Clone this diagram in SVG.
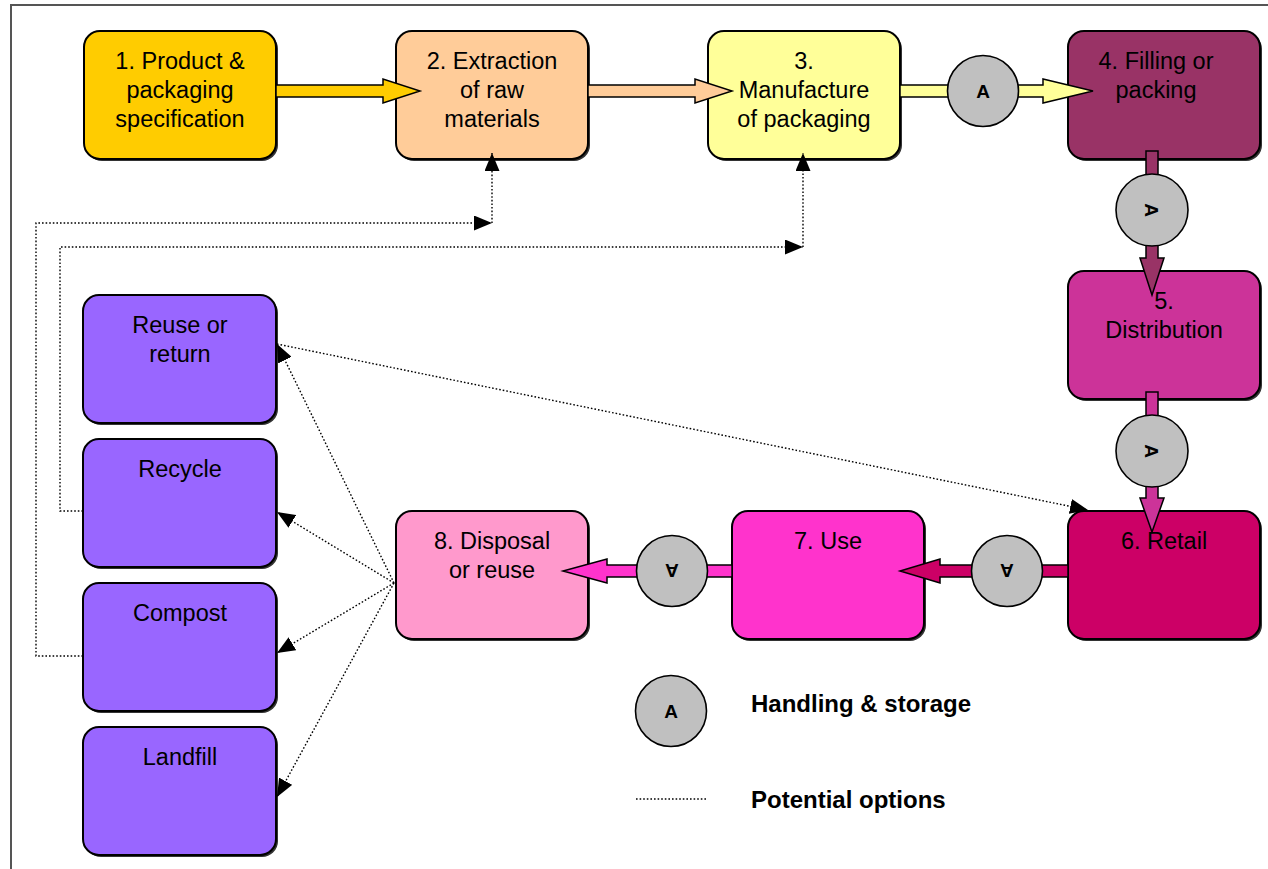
<svg xmlns="http://www.w3.org/2000/svg" width="1268" height="869" viewBox="0 0 1268 869">
<style>
text{font-family:"Liberation Sans",Arial,sans-serif;fill:#000}
.lbl{font-size:23.5px;text-anchor:middle}
.box{stroke:#000;stroke-width:2}
.sh{fill:#333}
.blk{stroke:#000;stroke-width:1.5}
.circ{fill:#C0C0C0;stroke:#000;stroke-width:1.6}
.ca{font-size:19px;font-weight:bold;text-anchor:middle}
.dot{fill:none;stroke:#000;stroke-width:1.4;stroke-dasharray:1.6 2}
.leg{font-size:24px;font-weight:bold}
</style>
<defs>
<marker id="ah" viewBox="0 0 18 15" refX="18" refY="7.5" markerWidth="18" markerHeight="15" markerUnits="userSpaceOnUse" orient="auto"><path d="M0,0 L18,7.5 L0,15 z" fill="#000"/></marker>
</defs>
<rect width="1268" height="869" fill="#fff"/>
<path d="M11,869 V5 H1268" fill="none" stroke="#555" stroke-width="2"/>

<g id="n1"><rect class="sh" x="86" y="33" width="192" height="128" rx="16"/><rect class="box" x="84" y="31" width="192" height="128" rx="16" fill="#FFCC00"/><text class="lbl" x="180" y="69">1. Product &amp;</text><text class="lbl" x="180" y="98">packaging</text><text class="lbl" x="180" y="127">specification</text></g>
<g id="n2"><rect class="sh" x="398" y="33" width="192" height="128" rx="16"/><rect class="box" x="396" y="31" width="192" height="128" rx="16" fill="#FFCC99"/><text class="lbl" x="492" y="69">2. Extraction</text><text class="lbl" x="492" y="98">of raw</text><text class="lbl" x="492" y="127">materials</text></g>
<g id="n3"><rect class="sh" x="710" y="33" width="192" height="128" rx="16"/><rect class="box" x="708" y="31" width="192" height="128" rx="16" fill="#FFFF99"/><text class="lbl" x="804" y="69">3.</text><text class="lbl" x="804" y="98">Manufacture</text><text class="lbl" x="804" y="127">of packaging</text></g>
<g id="n4"><rect class="sh" x="1070" y="33" width="192" height="128" rx="16"/><rect class="box" x="1068" y="31" width="192" height="128" rx="16" fill="#993366"/><text class="lbl" x="1156" y="69">4. Filling or</text><text class="lbl" x="1156" y="98">packing</text></g>
<g id="n5"><rect class="sh" x="1070" y="273" width="192" height="128" rx="16"/><rect class="box" x="1068" y="271" width="192" height="128" rx="16" fill="#CC3399"/><text class="lbl" x="1164" y="309">5.</text><text class="lbl" x="1164" y="338">Distribution</text></g>
<g id="n6"><rect class="sh" x="1070" y="513" width="192" height="128" rx="16"/><rect class="box" x="1068" y="511" width="192" height="128" rx="16" fill="#CC0066"/><text class="lbl" x="1164" y="549">6. Retail</text></g>
<g id="n7"><rect class="sh" x="734" y="513" width="192" height="128" rx="16"/><rect class="box" x="732" y="511" width="192" height="128" rx="16" fill="#FF33CC"/><text class="lbl" x="828" y="549">7. Use</text></g>
<g id="n8"><rect class="sh" x="398" y="513" width="192" height="128" rx="16"/><rect class="box" x="396" y="511" width="192" height="128" rx="16" fill="#FF99CC"/><text class="lbl" x="492" y="549">8. Disposal</text><text class="lbl" x="492" y="578">or reuse</text></g>
<g id="reuse"><rect class="sh" x="85" y="297" width="193" height="128" rx="16"/><rect class="box" x="83" y="295" width="193" height="128" rx="16" fill="#9966FF"/><text class="lbl" x="180" y="333">Reuse or</text><text class="lbl" x="180" y="362">return</text></g>
<g id="recycle"><rect class="sh" x="85" y="441" width="193" height="128" rx="16"/><rect class="box" x="83" y="439" width="193" height="128" rx="16" fill="#9966FF"/><text class="lbl" x="180" y="477">Recycle</text></g>
<g id="compost"><rect class="sh" x="85" y="585" width="193" height="128" rx="16"/><rect class="box" x="83" y="583" width="193" height="128" rx="16" fill="#9966FF"/><text class="lbl" x="180" y="621">Compost</text></g>
<g id="landfill"><rect class="sh" x="85" y="729" width="193" height="128" rx="16"/><rect class="box" x="83" y="727" width="193" height="128" rx="16" fill="#9966FF"/><text class="lbl" x="180" y="765">Landfill</text></g>

<g id="connectors">
<path class="blk" fill="#FFCC00" d="M276,85 H383 V79 L420,91 L383,103 V97 H276 Z"/>
<path class="blk" fill="#FFCC99" d="M588,85 H695 V79 L732,91 L695,103 V97 H588 Z"/>
<path class="blk" fill="#FFFF99" d="M900,85 H1043 V79 L1093,91 L1043,103 V97 H900 Z"/>
<circle class="circ" cx="983" cy="91" r="35.5"/><text class="ca" x="983" y="98">A</text>
<path class="blk" fill="#993366" d="M1146,151 V258 H1140 L1152,295 L1164,258 H1158 V151 Z"/>
<circle class="circ" cx="1152" cy="210" r="36"/><text class="ca" transform="translate(1152 210) rotate(90)" x="0" y="7">A</text>
<path class="blk" fill="#CC3399" d="M1146,392 V498 H1140 L1152,532 L1164,498 H1158 V392 Z"/>
<circle class="circ" cx="1152" cy="451" r="36"/><text class="ca" transform="translate(1152 451) rotate(90)" x="0" y="7">A</text>
<path class="blk" fill="#CC0066" d="M1068,565 H940 V559 L900,571 L940,583 V577 H1068 Z"/>
<circle class="circ" cx="1007" cy="571" r="35.5"/><text class="ca" transform="translate(1007 571) rotate(180)" x="0" y="7">A</text>
<path class="blk" fill="#FF33CC" d="M732,565 H607 V559 L563,571 L607,583 V577 H732 Z"/>
<circle class="circ" cx="672" cy="571" r="35.5"/><text class="ca" transform="translate(672 571) rotate(180)" x="0" y="7">A</text>

<path class="dot" d="M83,656 H36 V223 H492" marker-end="url(#ah)"/>
<path class="dot" d="M492,223 V153" marker-end="url(#ah)"/>
<path class="dot" d="M83,511 H60 V247 H803" marker-end="url(#ah)"/>
<path class="dot" d="M803,247 V153" marker-end="url(#ah)"/>
<path class="dot" d="M394,583 L277,344" marker-end="url(#ah)"/>
<path class="dot" d="M394,583 L277,512" marker-end="url(#ah)"/>
<path class="dot" d="M394,583 L277,653" marker-end="url(#ah)"/>
<path class="dot" d="M394,583 L277,797" marker-end="url(#ah)"/>
<path class="dot" d="M277,344 L1088,510" marker-end="url(#ah)"/>
</g>

<g id="legend">
<circle class="circ" cx="671" cy="711" r="35.5"/><text class="ca" x="671" y="718">A</text>
<text class="leg" x="751" y="712">Handling &amp; storage</text>
<path class="dot" d="M636,799 H706"/>
<text class="leg" x="751" y="808">Potential options</text>
</g>
</svg>
